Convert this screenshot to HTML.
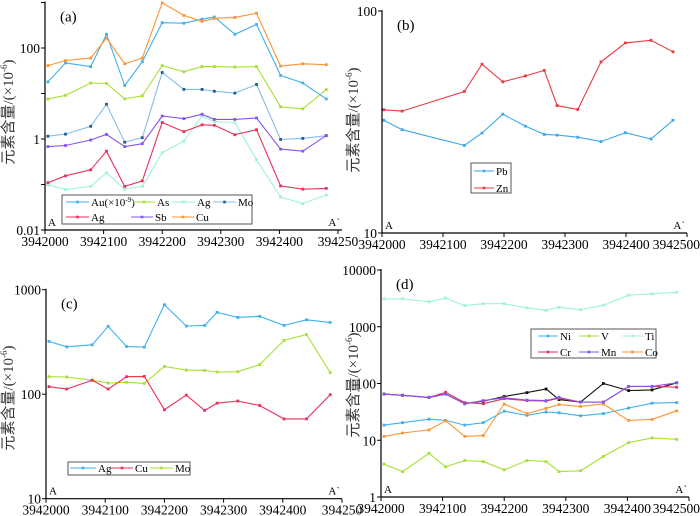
<!DOCTYPE html>
<html><head><meta charset="utf-8">
<style>
html,body{margin:0;padding:0;background:#fff;}
svg{display:block;}
svg text{font-family:"Liberation Serif","Noto Serif CJK SC",serif;}
svg text.cjk{font-family:"Liberation Serif","Noto Sans CJK SC",sans-serif;}
</style></head>
<body>
<svg id="chart" width="700" height="516" viewBox="0 0 700 516" xmlns="http://www.w3.org/2000/svg"></svg>
<script>
// ---- data ----
const stationsFull = [3942005,3942035,3942078,3942105,3942136,3942166,3942200,3942237,3942268,3942289,3942324,3942361,3942402,3942440,3942480];
const stationsB = [3942003,3942033,3942135,3942164,3942198,3942235,3942266,3942287,3942321,3942359,3942399,3942441,3942477];
const xTicks = [3942000,3942100,3942200,3942300,3942400,3942500];
const xTickLabels = ["3942000","3942100","3942200","3942300","3942400","3942500"];
// panel a
const aAu = [18,47,39,200,15,50,360,350,430,480,200,330,25,17,7.6];
const aAs = [7.6,9.1,17,16.6,7.6,8.9,41,30,39,39,38,39,5.1,4.6,12.2];
const aAgC = [0.098,0.078,0.091,0.18,0.079,0.091,0.5,0.9,3.2,2.4,2.3,0.35,0.053,0.038,0.059];
const aMo = [1.15,1.28,1.9,5.8,0.85,1.07,29,12.3,12.3,11.2,10.2,15.8,0.98,1.03,1.18];
const aSb = [0.68,0.72,0.95,1.26,0.68,0.79,3.2,2.8,3.5,2.7,2.7,2.9,0.6,0.54,1.2];
const aAgR = [0.11,0.155,0.21,0.54,0.091,0.12,2.3,1.45,2.05,2.0,1.24,1.6,0.093,0.079,0.082];
const aCu = [41,53,60,165,45,60,980,520,385,450,470,580,40,45,43];
// panel b
const bPb = [32.2,29.2,24.8,28.2,34.3,30.3,27.8,27.6,27,25.8,28.3,26.5,32.2];
const bZn = [35.9,35.4,43.4,57.6,48,51,54,37.5,36,59,71.8,73.8,65.5];
// panel c
const cAg = [320,284,297,446,286,282,718,449,455,607,543,556,455,515,486];
const cCu = [118,112,136,112,147,148,71,98,70,82,86,78,58,58,99];
const cMo = [147,146,136,128,130,127,184,170,169,163,164,192,327,373,161];
// panel d
const dTi = [3100,3100,2750,3200,2350,2550,2550,2150,1950,2200,2000,2400,3600,3800,4050];
const dNi = [18.5,20.4,23.5,22.4,18.5,20.4,32.5,27.5,31.5,30.5,27,29.5,37,45,46];
const dV = [3.8,2.8,5.9,3.4,4.4,4.2,3.0,4.4,4.2,2.8,2.9,5.2,9.1,11,10.4];
const dCr = [65,62,57,70,46,44,54,50,49,55,47,47,89,89,86];
const dMn = [65,62,57,65,44,50,56,51,50,57,47,47,89,89,103];
const dBlack = [65,62,57,65,44,49,59,69,80,52,47,100,75,77,103];
const dCo = [11.7,13.4,15.2,22,11.7,12.1,43.5,29.5,36.5,42.5,39.5,43.5,22.4,23.3,33];

const svg = document.getElementById('chart');
const NS = 'http://www.w3.org/2000/svg';
const SERIF = '"Liberation Serif", "Noto Serif CJK SC", serif';
function mk(tag, attrs, parent){
  const e = document.createElementNS(NS, tag);
  for (const k in attrs) e.setAttribute(k, attrs[k]);
  (parent||svg).appendChild(e);
  return e;
}
function txt(x,y,s,size,anchor,parent){
  const t = mk('text',{x:x,y:y,'font-size':size,'text-anchor':anchor||'start',fill:'#000','font-family':SERIF},parent);
  t.textContent = s;
  return t;
}

function panel(P){
  const g = mk('g',{});
  
  
  const xs = v => P.x0 + (v - 3942000) / 500 * (P.x1 - P.x0);
  const ys = v => P.yb - (Math.log10(v) - P.lmin) / (P.lmax - P.lmin) * (P.yb - P.yt);
  P.series.forEach(S => {
    const sg = mk('g',{},g);
    
    
    const pts = S.vals.map((v,i)=>xs(S.st[i]).toFixed(1)+','+ys(v).toFixed(1)).join(' ');
    mk('polyline',{points:pts,fill:'none',stroke:S.color,'stroke-width':1.1},sg);
    S.vals.forEach((v,i)=>{
      const r = mk('rect',{x:xs(S.st[i])-1.4,y:ys(v)-1.4,width:2.8,height:2.8,fill:S.mcolor||S.color},sg);
      
      
    });
  });
  const ax = mk('g',{},g);
  
  
  mk('line',{x1:P.x0,y1:P.yt-1,x2:P.x0,y2:P.yb,stroke:'#000','stroke-width':1.2},ax);
  mk('line',{x1:P.x0,y1:P.yb,x2:P.xend,y2:P.yb,stroke:'#000','stroke-width':1.2},ax);
  xTicks.forEach((t,i)=>{
    const x = xs(t);
    mk('line',{x1:x,y1:P.yb,x2:x,y2:P.yb+4,stroke:'#000','stroke-width':1},ax);
    let lab = xTickLabels[i];
    if (P.clipLast && i===5) lab = '394250';
    let xx = x, anchor = 'middle';
    if (!P.clipLast && i===5) { xx = 700; anchor = 'end'; }
    const tt = txt(xx, P.yb+16, lab, 13.5, anchor, ax);
    
    
  });
  for (let l = P.lmin; l <= P.lmax; l++){
    const y = ys(Math.pow(10,l));
    mk('line',{x1:P.x0-4,y1:y,x2:P.x0,y2:y,stroke:'#000','stroke-width':1},ax);
  }
  P.yLabels.forEach(L=>{
    const tt = txt(P.x0-5, ys(L[0])+5, L[1], 13.5, 'end', ax);
    
    
  });
  const pl = txt(P.x0+15, P.yt+19, '('+P.id+')', 15, 'start', g);
  
  
  const a1 = txt(P.x0+3, P.yb-4, 'A', 11, 'start', g);
  
  
  const a2 = txt(P.xend-2, P.yb-4, 'A`', 11, 'end', g);
  
  
  const yt = mk('text',{transform:'translate('+P.titleX+','+P.titleY+') rotate(-90)','font-size':15,'text-anchor':'middle',fill:'#333','class':'cjk'},g);
  
  
  yt.innerHTML = '元素含量/(×10<tspan font-size="9" dy="-6">-6</tspan><tspan dy="6">)</tspan>';
  const lg = mk('g',{},g);
  
  
  const b = P.legendBox;
  mk('rect',{x:b[0],y:b[1],width:b[2],height:b[3],fill:'#fff',stroke:'#555','stroke-width':1},lg);
  P.legend.forEach(E=>{
    const eg = mk('g',{},lg);
    
    
    mk('line',{x1:E.x1,y1:E.y,x2:E.x2,y2:E.y,stroke:E.color,'stroke-width':1.1},eg);
    mk('rect',{x:(E.x1+E.x2)/2-1.3,y:E.y-1.3,width:2.6,height:2.6,fill:E.mcolor||E.color},eg);
    const t = txt(E.x2+2, E.y+4, '', 11, 'start', eg);
    t.innerHTML = E.label;
  });
}

const C = {au:'#3fb1ee',as:'#a6e033',agc:'#9ef2da',mo:'#86bde6',red:'#e8305a',sb:'#8455f0',cu:'#ff9433',zn:'#e83a45',black:'#111'};

panel({id:'a',x0:45,x1:338,xend:342,yt:2.5,yb:230,lmin:-2,lmax:3,clipLast:true,titleX:13,titleY:112,
  yLabels:[[100,'100'],[1,'1'],[0.01,'0.01']],
  series:[
    {name:'as',st:stationsFull,vals:aAs,color:C.as},
    {name:'ag-cyan',st:stationsFull,vals:aAgC,color:C.agc},
    {name:'mo',st:stationsFull,vals:aMo,color:C.mo,mcolor:'#1d5c9a'},
    {name:'sb',st:stationsFull,vals:aSb,color:C.sb},
    {name:'ag-red',st:stationsFull,vals:aAgR,color:C.red},
    {name:'au',st:stationsFull,vals:aAu,color:C.au},
    {name:'cu',st:stationsFull,vals:aCu,color:C.cu}],
  legendBox:[62,195,190,29],
  legend:[
    {x1:66,x2:89,y:202,color:C.au,label:'Au(×10<tspan font-size="7" dy="-4">-9</tspan><tspan dy="4">)</tspan>'},
    {x1:133,x2:155,y:202,color:C.as,label:'As'},
    {x1:172,x2:195,y:202,color:C.agc,label:'Ag'},
    {x1:213,x2:236,y:202,color:C.mo,mcolor:'#1d5c9a',label:'Mo'},
    {x1:66,x2:89,y:217,color:C.red,label:'Ag'},
    {x1:131,x2:153,y:217,color:C.sb,label:'Sb'},
    {x1:172,x2:194,y:217,color:C.cu,label:'Cu'}]
});

panel({id:'b',x0:382,x1:687,xend:687,yt:11,yb:233,lmin:1,lmax:2,titleX:358,titleY:120,
  yLabels:[[100,'100'],[10,'10']],
  series:[
    {name:'pb',st:stationsB,vals:bPb,color:'#3aa9ee'},
    {name:'zn',st:stationsB,vals:bZn,color:C.zn}],
  legendBox:[471,163,40,30],
  legend:[
    {x1:474,x2:494,y:171,color:'#3aa9ee',label:'Pb'},
    {x1:474,x2:494,y:188,color:C.zn,label:'Zn'}]
});

panel({id:'c',x0:46,x1:342,xend:342,yt:289.7,yb:498.7,lmin:1,lmax:3,clipLast:true,titleX:13,titleY:398,
  yLabels:[[1000,'1000'],[100,'100'],[10,'10']],
  series:[
    {name:'mo',st:stationsFull,vals:cMo,color:C.as},
    {name:'cu',st:stationsFull,vals:cCu,color:C.red},
    {name:'ag',st:stationsFull,vals:cAg,color:C.au}],
  legendBox:[68,462,122,13],
  legend:[
    {x1:70,x2:96,y:468,color:C.au,label:'Ag'},
    {x1:111,x2:133,y:468,color:C.red,label:'Cu'},
    {x1:150,x2:173,y:468,color:C.as,label:'Mo'}]
});

panel({id:'d',x0:381,x1:689,xend:689,yt:270,yb:497,lmin:0,lmax:4,titleX:358,titleY:385,
  yLabels:[[10000,'10000'],[1000,'1000'],[100,'100'],[10,'10'],[1,'1']],
  series:[
    {name:'ti',st:stationsFull,vals:dTi,color:C.agc},
    {name:'v',st:stationsFull,vals:dV,color:C.as},
    {name:'ni',st:stationsFull,vals:dNi,color:C.au},
    {name:'co',st:stationsFull,vals:dCo,color:C.cu},
    {name:'black',st:stationsFull,vals:dBlack,color:C.black},
    {name:'cr',st:stationsFull,vals:dCr,color:C.red},
    {name:'mn',st:stationsFull,vals:dMn,color:C.sb}],
  legendBox:[531,329,125,29],
  legend:[
    {x1:538,x2:558,y:336,color:C.au,label:'Ni'},
    {x1:579,x2:599,y:336,color:C.as,label:'V'},
    {x1:622,x2:643,y:336,color:C.agc,label:'Ti'},
    {x1:538,x2:558,y:352,color:C.red,label:'Cr'},
    {x1:579,x2:599,y:352,color:C.sb,label:'Mn'},
    {x1:622,x2:643,y:352,color:C.cu,label:'Co'}]
});
</script>
</body></html>
